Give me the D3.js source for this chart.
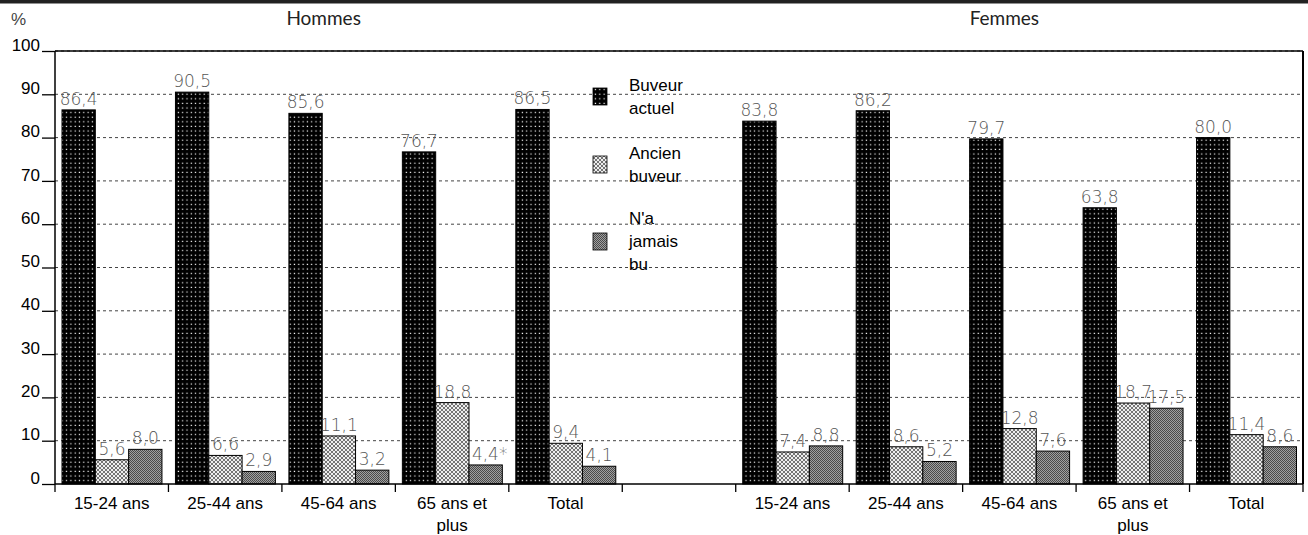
<!DOCTYPE html>
<html><head><meta charset="utf-8">
<script src="https://cdn.jsdelivr.net/npm/d3@7"></script>
<style>html,body{margin:0;padding:0;background:#fff;}svg{display:block;}</style>
</head><body>
<script>
// ---- data ----
const groups = ["Hommes", "Femmes"];
const categories = ["15-24 ans", "25-44 ans", "45-64 ans", "65 ans et plus", "Total"];
const categoryLines = [["15-24 ans"], ["25-44 ans"], ["45-64 ans"], ["65 ans et", "plus"], ["Total"]];
const series = ["Buveur actuel", "Ancien buveur", "N'a jamais bu"];
const legendLines = [["Buveur", "actuel"], ["Ancien", "buveur"], ["N'a", "jamais", "bu"]];
const hommesBuveur = [86.4, 90.5, 85.6, 76.7, 86.5];
const hommesAncien = [5.6, 6.6, 11.1, 18.8, 9.4];
const hommesJamais = [8.0, 2.9, 3.2, 4.4, 4.1];
const hommesJamaisNote = ["", "", "", "*", ""];
const femmesBuveur = [83.8, 86.2, 79.7, 63.8, 80.0];
const femmesAncien = [7.4, 8.6, 12.8, 18.7, 11.4];
const femmesJamais = [8.8, 5.2, 7.6, 17.5, 8.6];
const yTicks = [0, 10, 20, 30, 40, 50, 60, 70, 80, 90, 100];

// ---- layout ----
const W = 1308, H = 535;
const mLeft = 55, mRight = 1303, mTop = 51, mBottom = 484;
const svg = d3.select("body").append("svg").attr("width", W).attr("height", H);

const defs = svg.append("defs");
const pb = defs.append("pattern").attr("id", "pBlack").attr("patternUnits", "userSpaceOnUse")
  .attr("width", 4.3).attr("height", 4.6);
pb.append("rect").attr("width", 4.3).attr("height", 4.6).attr("fill", "#000");
pb.append("rect").attr("x", 1.5).attr("y", 1.6).attr("width", 1.2).attr("height", 1.2).attr("fill", "#fff");

const pl = defs.append("pattern").attr("id", "pLight").attr("patternUnits", "userSpaceOnUse")
  .attr("width", 4).attr("height", 4);
pl.append("rect").attr("width", 4).attr("height", 4).attr("fill", "#eeeeee");
pl.append("path").attr("d", "M0,0L4,4M4,0L0,4").attr("stroke", "#666").attr("stroke-width", 0.9);

const pd = defs.append("pattern").attr("id", "pDark").attr("patternUnits", "userSpaceOnUse")
  .attr("width", 2).attr("height", 2);
pd.append("rect").attr("width", 2).attr("height", 2).attr("fill", "#a0a0a0");
pd.append("rect").attr("width", 1).attr("height", 1).attr("fill", "#4a4a4a");
pd.append("rect").attr("x", 1).attr("y", 1).attr("width", 1).attr("height", 1).attr("fill", "#4a4a4a");

const fills = ["url(#pBlack)", "url(#pLight)", "url(#pDark)"];

// top band
svg.append("rect").attr("x", 0).attr("y", 0).attr("width", W).attr("height", 3.5).attr("fill", "#222");

const slots = [...categories.map(c => "H|" + c), "gap", ...categories.map(c => "F|" + c)];
const x = d3.scaleBand().domain(slots).range([mLeft, mRight]).paddingInner(0).paddingOuter(0);
const xs = d3.scaleBand().domain(series).range([7, x.bandwidth() - 6.5]).padding(0);
const y = d3.scaleLinear().domain([0, 100]).range([mBottom, mTop]);

// gridlines
svg.append("g").selectAll("line").data(yTicks.filter(t => t > 0)).join("line")
  .attr("x1", mLeft).attr("x2", mRight).attr("y1", d => y(d)).attr("y2", d => y(d))
  .attr("stroke", "#444").attr("stroke-width", 1).attr("stroke-dasharray", "3,3");

// y axis
const yAxis = d3.axisLeft(y).tickValues(yTicks).tickSize(13).tickPadding(2);
const gy = svg.append("g").attr("transform", `translate(${mLeft},0)`).call(yAxis);
gy.select(".domain").remove();
gy.selectAll("line").attr("stroke", "#000").attr("stroke-width", 1.3);
gy.selectAll("text").attr("font-family", "Liberation Sans, Arial, sans-serif").attr("font-size", 17)
  .attr("fill", "#000").attr("dy", "-0.05em");

// bars
const rows = [];
const H_ = [hommesBuveur, hommesAncien, hommesJamais];
const F_ = [femmesBuveur, femmesAncien, femmesJamais];
categories.forEach((c, i) => {
  series.forEach((s, k) => {
    rows.push({slot: "H|" + c, s, k, v: H_[k][i], note: k === 2 ? hommesJamaisNote[i] : ""});
  });
});
categories.forEach((c, i) => {
  series.forEach((s, k) => {
    rows.push({slot: "F|" + c, s, k, v: F_[k][i], note: ""});
  });
});
const fmt = v => d3.format(".1f")(v).replace(".", ",");

svg.append("g").selectAll("rect").data(rows).join("rect")
  .attr("x", d => x(d.slot) + xs(d.s)).attr("width", xs.bandwidth())
  .attr("y", d => y(d.v)).attr("height", d => y(0) - y(d.v))
  .attr("fill", d => fills[d.k]).attr("stroke", "#000").attr("stroke-width", 1);

svg.append("g").selectAll("text").data(rows).join("text")
  .attr("x", d => x(d.slot) + xs(d.s) + xs.bandwidth() / 2 + (d.note ? 4 : 0))
  .attr("y", d => y(d.v) - 5)
  .attr("text-anchor", "middle")
  .attr("font-family", "DejaVu Sans, sans-serif").attr("font-weight", 200).attr("font-size", 17)
  .attr("fill", "#555")
  .text(d => fmt(d.v) + d.note);

// frame
svg.append("line").attr("x1", mLeft).attr("x2", mRight).attr("y1", mTop).attr("y2", mTop).attr("stroke", "#000").attr("stroke-width", 1.5);
svg.append("line").attr("x1", mLeft).attr("x2", mLeft).attr("y1", mTop).attr("y2", mBottom).attr("stroke", "#000").attr("stroke-width", 1.5);
svg.append("line").attr("x1", mRight).attr("x2", mRight).attr("y1", mTop).attr("y2", mBottom).attr("stroke", "#000").attr("stroke-width", 2);
svg.append("line").attr("x1", mLeft).attr("x2", mRight).attr("y1", mBottom).attr("y2", mBottom).attr("stroke", "#000").attr("stroke-width", 1.5);

// x ticks
const boundaries = slots.map(s => x(s)).concat([mRight]);
svg.append("g").selectAll("line").data(boundaries).join("line")
  .attr("x1", d => d).attr("x2", d => d).attr("y1", mBottom).attr("y2", mBottom + 8)
  .attr("stroke", "#000").attr("stroke-width", 1.3);

// x labels
const xl = svg.append("g").selectAll("text").data(slots.filter(s => s !== "gap")).join("text")
  .attr("x", d => x(d) + x.bandwidth() / 2).attr("y", 509)
  .attr("text-anchor", "middle")
  .attr("font-family", "Liberation Sans, Arial, sans-serif").attr("font-size", 17).attr("fill", "#000");
xl.each(function(d) {
  const lines = categoryLines[categories.indexOf(d.split("|")[1])];
  d3.select(this).selectAll("tspan").data(lines).join("tspan")
    .attr("x", x(d) + x.bandwidth() / 2).attr("dy", (l, i) => i === 0 ? 0 : 22).text(l => l);
});

// group titles
const groupCenters = [
  (x("H|" + categories[0]) + x("H|" + categories[4]) + x.bandwidth()) / 2,
  (x("F|" + categories[0]) + x("F|" + categories[4]) + x.bandwidth()) / 2
];
svg.append("g").selectAll("text").data(groups).join("text")
  .attr("x", (d, i) => groupCenters[i] - 15).attr("y", 25)
  .attr("text-anchor", "middle")
  .attr("font-family", "Lato, sans-serif").attr("font-size", 19).attr("fill", "#222")
  .text(d => d);

// percent sign
svg.append("text").attr("x", 11).attr("y", 25)
  .attr("font-family", "Liberation Sans, Arial, sans-serif").attr("font-size", 17).attr("fill", "#444").text("%");

// legend
const legY = [96, 164, 241];
const lg = svg.append("g").selectAll("g").data(series).join("g");
lg.append("rect").attr("x", 593).attr("y", (d, i) => legY[i] - 8).attr("width", 14).attr("height", 17)
  .attr("fill", (d, i) => fills[i]).attr("stroke", "#000").attr("stroke-width", 0.8);
lg.each(function(d, i) {
  const lines = legendLines[i];
  const n = lines.length;
  const t = d3.select(this).append("text")
    .attr("font-family", "Liberation Sans, Arial, sans-serif").attr("font-size", 17).attr("fill", "#000");
  t.selectAll("tspan").data(lines).join("tspan")
    .attr("x", 629).attr("y", (l, j) => legY[i] + 6 + (j - (n - 1) / 2) * 23).text(l => l);
});
</script>
</body></html>
